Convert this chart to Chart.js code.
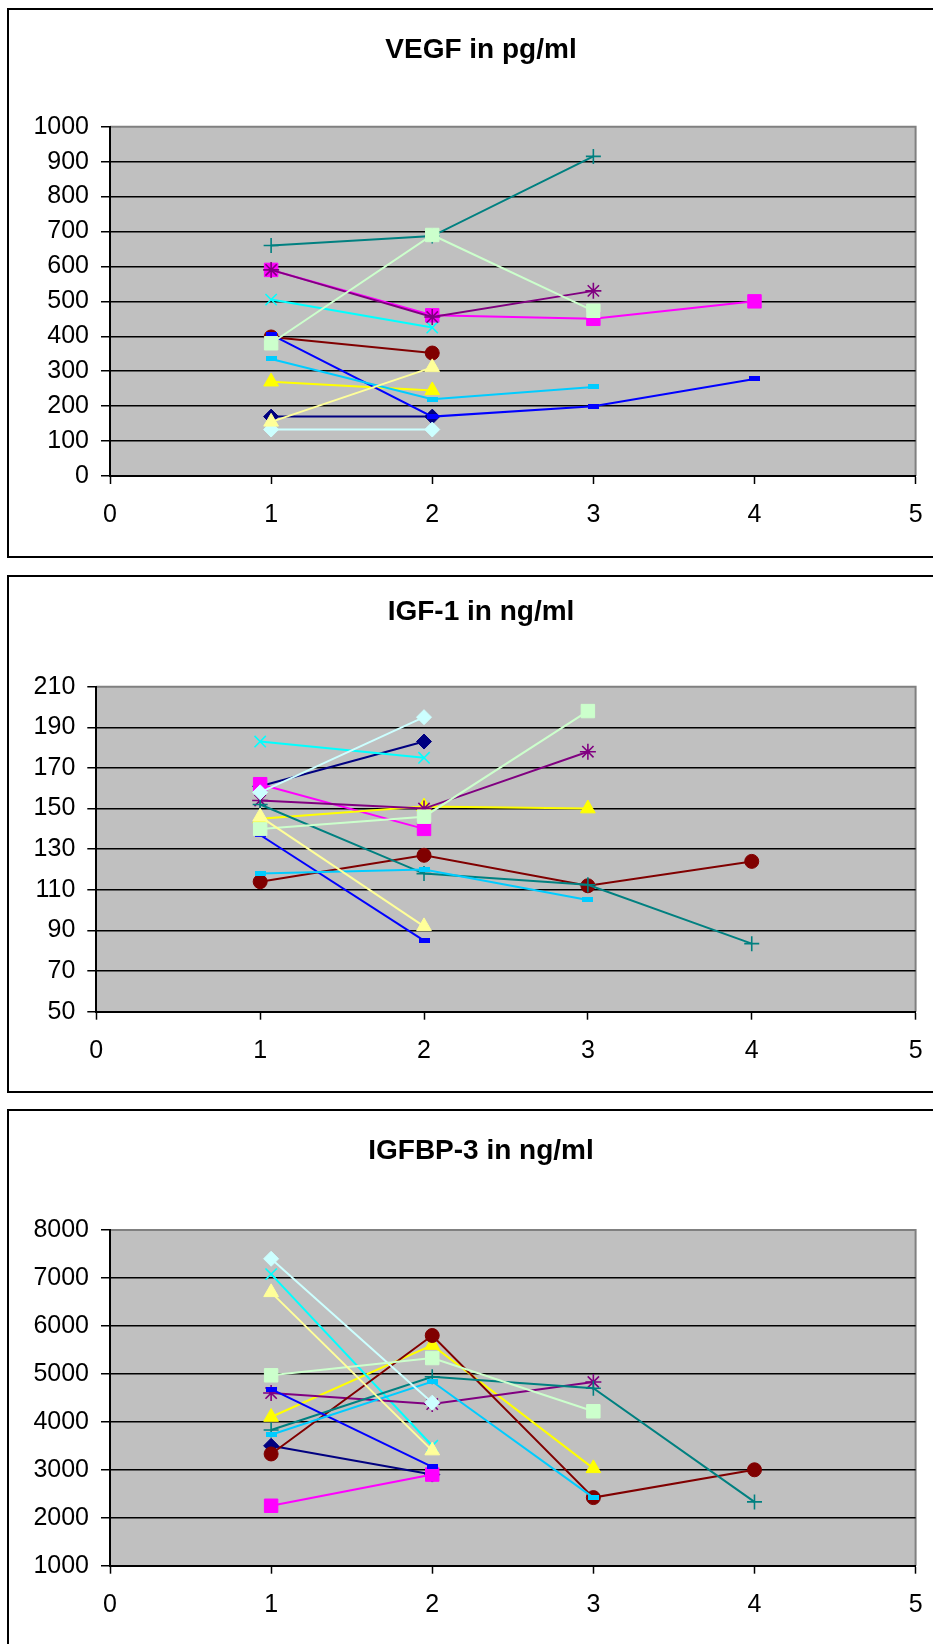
<!DOCTYPE html>
<html>
<head>
<meta charset="utf-8">
<title>VEGF, IGF-1, IGFBP-3</title>
<script src="https://cdn.jsdelivr.net/npm/chart.js@4.4.1/dist/chart.umd.min.js"></script>
<style>
    html, body { margin: 0; padding: 0; background: #fff; overflow: hidden; }
    #page { position: relative; width: 933px; height: 1644px; overflow: hidden; }
    .box { position: absolute; left: 7px; width: 1000px; border: 2px solid #000; }
    canvas { position: absolute; left: 0; }
</style>
</head>
<body>
<div id="page">
    <div class="box" style="top:8px;height:546px"></div>
    <div class="box" style="top:575px;height:514px"></div>
    <div class="box" style="top:1109px;height:700px"></div>
    <canvas id="vegfChart" width="962" height="560" style="top:0"></canvas>
    <canvas id="igfChart" width="962" height="533" style="top:560px"></canvas>
    <canvas id="igfbpChart" width="962" height="551" style="top:1093px"></canvas>
</div>
<script>
// Measurement days on the x axis
const timePoints = [1, 2, 3, 4];
const xTicks = [0, 1, 2, 3, 4, 5];

// Excel default series palette and markers
const seriesColors = ['#000080', '#FF00FF', '#FFFF00', '#00FFFF', '#800080', '#800000',
    '#008080', '#0000FF', '#00CCFF', '#CCFFFF', '#CCFFCC', '#FFFF99'];
const seriesMarkers = ['rectRot', 'rect', 'triangle', 'crossRot', 'star', 'circle',
    'cross', 'dash', 'dash', 'rectRot', 'rect', 'triangle'];
const markerRadius = [7.5, 9.5, 8.5, 8, 8, 7, 7.5, 5, 5, 7.5, 9.5, 8.5];

// VEGF in pg/ml, one row per patient
const vegfValues = [
    [170, 170],
    [590, 460, 450, 500],
    [270, 245],
    [505, 425],
    [590, 455, 530],
    [398, 352],
    [660, 687, 915],
    [405, 170, 200, 278],
    [335, 220, 255],
    [133, 133],
    [380, 690, 473],
    [155, 311]
];

// IGF-1 in ng/ml
const igfValues = [
    [161, 183],
    [162, 140],
    [145, 151, 150],
    [183, 175],
    [154, 150, 178],
    [114, 127, 112, 124],
    [152, 118, 112.5, 83.5],
    [137, 85],
    [118, 120, 105],
    [158, 195],
    [140, 146, 198],
    [146, 92]
];

// IGFBP-3 in ng/ml
const igfbpValues = [
    [3500, 2900],
    [2250, 2900],
    [4100, 5600, 3030],
    [7080, 3500],
    [4600, 4370, 4830],
    [3330, 5800, 2420, 3000],
    [3830, 4940, 4700, 2330],
    [4680, 3060],
    [3730, 4840, 2420],
    [7400, 4400],
    [4970, 5330, 4220],
    [6700, 3400]
];

Chart.defaults.font.family = "'Liberation Sans', Arial, sans-serif";
Chart.defaults.color = '#000';

// small filled bar, like the Excel dash marker
function dashMarker(color) {
    const c = document.createElement('canvas');
    c.width = 11;
    c.height = 5;
    const g = c.getContext('2d');
    g.fillStyle = color;
    g.fillRect(0, 0, 11, 5);
    return c;
}

// grey plot area with the grey frame on top and right
const plotBackground = {
    id: 'plotBackground',
    beforeDraw(chart) {
        const { ctx, chartArea: a } = chart;
        ctx.save();
        ctx.fillStyle = '#C0C0C0';
        ctx.fillRect(a.left, a.top, a.width, a.height);
        ctx.strokeStyle = '#808080';
        ctx.lineWidth = 2;
        ctx.beginPath();
        ctx.moveTo(a.left, a.top);
        ctx.lineTo(a.right, a.top);
        ctx.lineTo(a.right, a.bottom);
        ctx.stroke();
        ctx.restore();
    }
};

function buildDatasets(values) {
    return values.map((row, i) => {
        const color = seriesColors[i];
        const marker = seriesMarkers[i] === 'dash' ? dashMarker(color) : seriesMarkers[i];
        const stroked = ['cross', 'crossRot', 'star'].includes(seriesMarkers[i]);
        return {
            label: 'Series ' + (i + 1),
            data: row.map((v, j) => ({ x: timePoints[j], y: v })),
            borderColor: color,
            backgroundColor: color,
            borderWidth: 2,
            pointStyle: marker,
            pointRadius: markerRadius[i],
            pointBorderColor: color,
            pointBackgroundColor: color,
            pointBorderWidth: stroked ? 1.6 : 1,
            tension: 0,
            order: values.length - i
        };
    });
}

function createPanel(canvasId, title, values, yMin, yMax, yStep, layout) {
    const canvas = document.getElementById(canvasId);
    const titleHeight = 28 * 1.2;
    return new Chart(canvas, {
        type: 'line',
        data: { datasets: buildDatasets(values) },
        options: {
            responsive: false,
            devicePixelRatio: 1,
            animation: false,
            layout: { padding: 0 },
            plugins: {
                legend: { display: false },
                tooltip: { enabled: false },
                title: {
                    display: true,
                    text: title,
                    color: '#000',
                    font: { size: 28, weight: 'bold' },
                    padding: {
                        top: layout.titleY - titleHeight / 2,
                        bottom: layout.plotTop - layout.titleY - titleHeight / 2
                    }
                }
            },
            scales: {
                x: {
                    type: 'linear',
                    min: 0,
                    max: 5,
                    afterBuildTicks: scale => { scale.ticks = xTicks.map(v => ({ value: v })); },
                    afterFit: scale => { scale.height = canvas.height - layout.plotBottom; },
                    grid: { drawOnChartArea: false, drawTicks: true, tickLength: 8, tickColor: '#000', tickWidth: 1.5 },
                    border: { color: '#000', width: 2 },
                    ticks: { font: { size: 25 }, padding: 16, maxRotation: 0, callback: v => String(v) }
                },
                y: {
                    min: yMin,
                    max: yMax,
                    ticks: { stepSize: yStep, font: { size: 25 }, padding: 12, callback: v => String(v) },
                    afterFit: scale => { scale.width = layout.plotLeft; },
                    grid: {
                        color: ctx => (ctx.tick && ctx.tick.value === yMax) ? 'rgba(0,0,0,0)' : '#000',
                        lineWidth: 1.5,
                        tickLength: 9,
                        tickColor: '#000',
                        tickWidth: 1.5
                    },
                    border: { color: '#000', width: 2 }
                },
                // empty right margin so the title centres like the original
                spacer: {
                    position: 'right',
                    afterFit: scale => { scale.width = canvas.width - layout.plotRight; },
                    grid: { display: false, drawTicks: false },
                    border: { display: false },
                    ticks: { display: false }
                }
            }
        },
        plugins: [plotBackground]
    });
}

createPanel('vegfChart', 'VEGF in pg/ml', vegfValues, 0, 1000, 100,
    { plotLeft: 110, plotRight: 915.6, plotTop: 126.7, plotBottom: 476, titleY: 50 });
createPanel('igfChart', 'IGF-1 in ng/ml', igfValues, 50, 210, 20,
    { plotLeft: 96.3, plotRight: 915.6, plotTop: 126.7, plotBottom: 451.7, titleY: 52 });
createPanel('igfbpChart', 'IGFBP-3 in ng/ml', igfbpValues, 1000, 8000, 1000,
    { plotLeft: 110, plotRight: 915.6, plotTop: 137, plotBottom: 472.7, titleY: 58 });
</script>
</body>
</html>
